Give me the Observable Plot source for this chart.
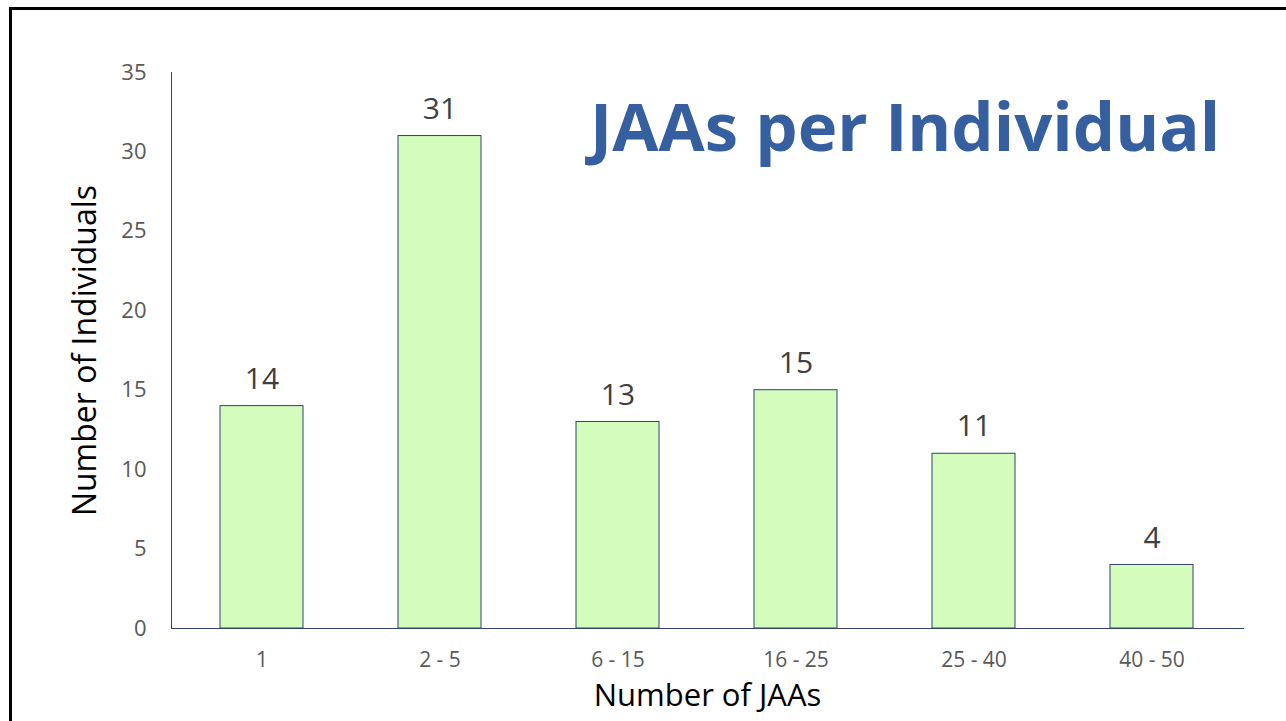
<!DOCTYPE html>
<html>
<head>
<meta charset="utf-8">
<script src="https://cdn.jsdelivr.net/npm/d3@7"></script>
<script src="https://cdn.jsdelivr.net/npm/@observablehq/plot@0.6"></script>
<style>
  html, body { margin: 0; padding: 0; background: #fff; overflow: hidden; }
  #wrap { position: relative; width: 1286px; height: 721px; font-family: "Open Sans", sans-serif; }
  #frame { position: absolute; left: 9px; top: 7px; width: 2000px; height: 2000px;
           border-top: 3px solid #000; border-left: 3px solid #000; pointer-events: none; }
  #title { position: absolute; left: 590px; top: 79px; font-family: "Open Sans", sans-serif;
           font-weight: 700; font-size: 67px; color: #365f9f; white-space: nowrap; }
</style>
</head>
<body>
<div id="wrap">
  <div id="chart"></div>
  <div id="frame"></div>
  <div id="title">JAAs per Individual</div>
</div>
<script>
const categories = ["1", "2 - 5", "6 - 15", "16 - 25", "25 - 40", "40 - 50"];
const counts = [14, 31, 13, 15, 11, 4];
const yTicks = [0, 5, 10, 15, 20, 25, 30, 35];

const data = categories.map((c, i) => ({category: c, count: counts[i]}));

const axisColor = "#34426a";

const chart = Plot.plot({
  width: 1286,
  height: 721,
  marginLeft: 171,
  marginRight: 43,
  marginTop: 72,
  marginBottom: 93,
  style: {fontFamily: "Open Sans, sans-serif", background: "transparent"},
  x: {domain: categories, paddingInner: 0.532, paddingOuter: 0.266, label: null},
  y: {domain: [0, 35], label: null},
  marks: [
    Plot.barY(data, {x: "category", y: "count", fill: "#d4fcbc", stroke: axisColor, strokeWidth: 1}),
    Plot.frame({anchor: "left", stroke: axisColor, strokeOpacity: 1}),
    Plot.frame({anchor: "bottom", stroke: axisColor, strokeOpacity: 1}),
    Plot.axisY(yTicks, {tickSize: 0, tickPadding: 25, fontSize: 22, fill: "#595959", label: null}),
    Plot.axisX({tickSize: 0, tickPadding: 24, fontSize: 21, fill: "#595959", label: null}),
    Plot.text(data, {x: "category", y: "count", text: d => String(d.count), dy: -27,
      lineAnchor: "middle", fontSize: 30, fill: "#404040"}),
    Plot.text(["Number of JAAs"], {frameAnchor: "bottom", dy: 68, fontSize: 31, fill: "#000",
      lineAnchor: "middle", textAnchor: "middle"}),
    Plot.text(["Number of Individuals"], {frameAnchor: "left", dx: -86, rotate: -90, fontSize: 32, fill: "#000",
      lineAnchor: "middle", textAnchor: "middle"})
  ]
});
document.getElementById("chart").appendChild(chart);
</script>
</body>
</html>
